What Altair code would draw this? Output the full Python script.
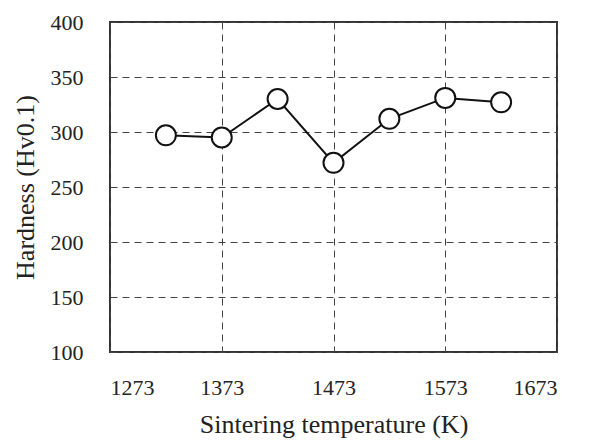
import altair as alt
import pandas as pd

temperature = [1323, 1373, 1423, 1473, 1523, 1573, 1623]
hardness = [297, 295, 330, 272, 312, 331, 327]
x_ticks = [1273, 1373, 1473, 1573, 1673]
y_ticks = [100, 150, 200, 250, 300, 350, 400]

df = pd.DataFrame({"T": temperature, "H": hardness})

font = "Liberation Serif"

x = alt.X("T:Q", title="Sintering temperature (K)",
          scale=alt.Scale(domain=[1273, 1673], nice=False, zero=False),
          axis=alt.Axis(values=x_ticks, format="d", ticks=False, domain=False,
                        labelPadding=25, titlePadding=13, titleFontSize=26,
                        gridDash=[7, 5], gridColor="#444", gridWidth=1))
y = alt.Y("H:Q", title="Hardness (Hv0.1)",
          scale=alt.Scale(domain=[100, 400], nice=False, zero=False),
          axis=alt.Axis(values=y_ticks, ticks=False, domain=False,
                        labelPadding=27, titlePadding=12, titleFontSize=26,
                        gridDash=[7, 5], gridColor="#444", gridWidth=1))

line = alt.Chart(df).mark_line(color="#111", strokeWidth=2).encode(x=x, y=y)
pts = alt.Chart(df).mark_point(shape="circle", filled=True, fill="white",
                               stroke="#111", strokeWidth=2, size=400,
                               opacity=1).encode(x="T:Q", y="H:Q")

chart = (line + pts).properties(
    width=447, height=330,
    autosize=alt.AutoSizeParams(type="none"),
    padding={"left": 102, "top": 14, "right": 25, "bottom": 88},
).configure_view(stroke="#333", strokeWidth=2).configure_axis(
    labelFont=font, titleFont=font, labelFontSize=22,
    labelColor="#222", titleColor="#222", titleFontWeight="normal",
    gridOpacity=1
).configure_axisX(grid=True).configure_axisY(grid=True)

chart.save("out.html", embed_options={"renderer": "svg", "actions": False})
